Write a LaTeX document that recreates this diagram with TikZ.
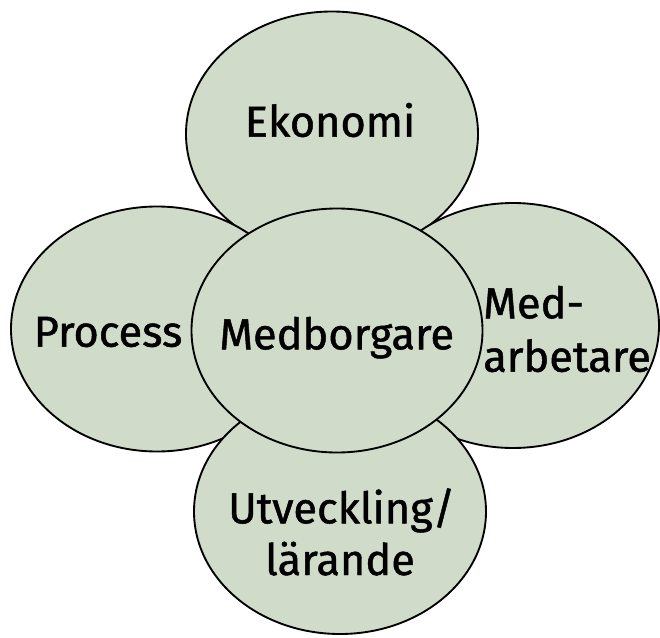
\documentclass[tikz,border=0pt]{standalone}
\usepackage{fontspec}
\setmainfont{Fira Sans}
\newfontfamily\lblfont{Fira Sans}[FakeBold=1.1]
\usetikzlibrary{shapes.geometric}
\definecolor{sage}{RGB}{209,219,201}
\tikzset{
  petal/.style={ellipse, draw=black, fill=sage, line width=1.4pt, inner sep=0pt,
    minimum width=219pt, minimum height=183.75pt},
  hub/.style={petal, minimum width=218.25pt, minimum height=183pt},
  lbl/.style={inner sep=0pt, font=\lblfont\fontsize{32.5}{40}\selectfont, text=black}
}
\begin{document}
\begin{tikzpicture}[x=0.75pt,y=0.75pt]
\useasboundingbox (0,0) rectangle (660,637);
\node[petal] (eko) at (332,503) {};
\node[petal] (pro) at (157,308) {};
\node[petal] (arb) at (513,311.5) {};
\node[petal] (utv) at (340,125.5) {};
\node[hub]   (mbg) at (337,306.5) {};
\node[lbl, anchor=base] (teko) at (330,500.3) {Ekonomi};
\node[lbl, anchor=base] (tpro) at (108,290.3) {Process};
\node[lbl, anchor=base] (tmbg) at (336.7,287.7) {Medborgare};
\node[lbl, anchor=base west] (tarb1) at (483,318.7) {Med-};
\node[lbl, anchor=base west] (tarb2) at (483,265.3) {arbetare};
\node[lbl, anchor=base] (tutv1) at (341.7,113.7) {Utveckling/};
\node[lbl, anchor=base] (tutv2) at (340,62) {lärande};
\end{tikzpicture}
\end{document}
